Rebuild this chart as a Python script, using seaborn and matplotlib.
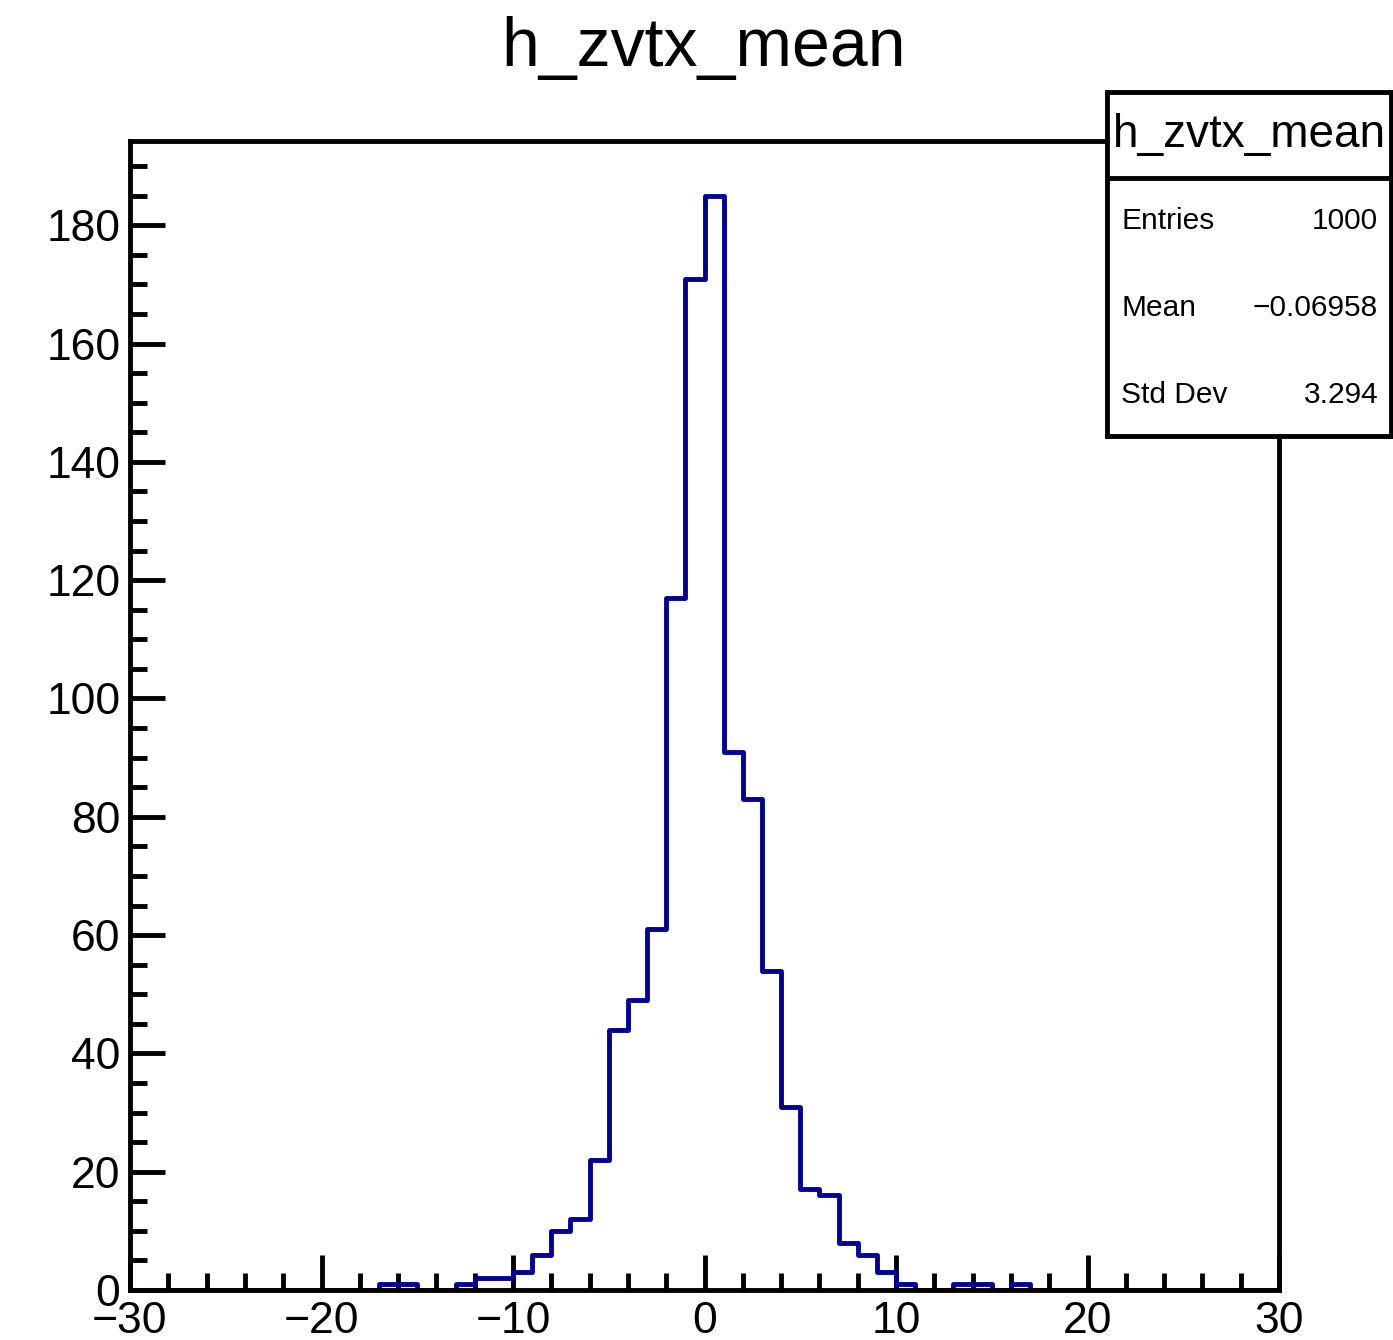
import numpy as np
import pandas as pd
import matplotlib
matplotlib.use("Agg")
import matplotlib.pyplot as plt
import matplotlib.ticker as tkr
import seaborn as sns

# bin contents of h_zvtx_mean, unit-wide bins from -30 to 30
bin_lo = [-17, -16, -13, -12, -11, -10, -9, -8, -7, -6, -5, -4, -3, -2, -1,
          0, 1, 2, 3, 4, 5, 6, 7, 8, 9, 10, 13, 14, 16]
counts = [1, 1, 1, 2, 2, 3, 6, 10, 12, 22, 44, 49, 61, 117, 171,
          185, 91, 83, 54, 31, 17, 16, 8, 6, 3, 1, 1, 1, 1]

stats_names = ["Entries", "Mean", "Std Dev"]
stats_vals = ["1000", "\u22120.06958", "3.294"]

df = pd.DataFrame({"z": np.array(bin_lo) + 0.5, "n": counts})

sns.set_style("white")
plt.rcParams['font.family'] = ['Liberation Sans', 'DejaVu Sans']
plt.rcParams['text.color'] = 'black'
plt.rcParams['xtick.color'] = 'black'
plt.rcParams['ytick.color'] = 'black'

W, H = 1393, 1340
fig = plt.figure(figsize=(W / 100, H / 100), dpi=100)
ax = fig.add_axes([130 / W, 1 - 1290 / H, (1279 - 130) / W, (1290 - 141) / H])

sns.histplot(data=df, x="z", weights="n", binwidth=1, binrange=(-30, 30),
             element="step", fill=False, color="#000099", linewidth=3.5, ax=ax)

ax.set_xlim(-30, 30)
ax.set_ylim(0, 194.25)
ax.set_xlabel("")
ax.set_ylabel("")

ax.xaxis.set_major_locator(tkr.MultipleLocator(10))
ax.xaxis.set_minor_locator(tkr.MultipleLocator(2))
ax.yaxis.set_major_locator(tkr.MultipleLocator(20))
ax.yaxis.set_minor_locator(tkr.MultipleLocator(5))
ax.tick_params(axis='both', which='both', direction='in', width=3.5, color='black',
               bottom=True, left=True, top=False, right=False)
ax.tick_params(axis='both', which='major', length=25, labelsize=32, labelcolor='black')
ax.tick_params(axis='both', which='minor', length=12)
ax.tick_params(axis='x', which='major', pad=8)
ax.tick_params(axis='y', which='major', pad=7)
for s in ax.spines.values():
    s.set_linewidth(3.5)
    s.set_color('black')
    s.set_visible(True)

fig.text(704 / W, 1 - 48 / H, "h_zvtx_mean", ha='center', va='center', fontsize=49)

# stats box
sb = fig.add_axes([1107 / W, 1 - 436 / H, (1391 - 1107) / W, (436 - 92) / H])
sb.set_xlim(0, 1)
sb.set_ylim(0, 1)
sb.set_xticks([])
sb.set_yticks([])
sb.set_facecolor('white')
for s in sb.spines.values():
    s.set_linewidth(3.5)
    s.set_color('black')
hy = (436 - 178) / (436 - 92)
sb.axhline(hy, color='black', linewidth=3.5)
sb.text(0.5, (436 - 135) / (436 - 92), "h_zvtx_mean", ha='center', va='center', fontsize=33)
for i, (nm, v) in enumerate(zip(stats_names, stats_vals)):
    yy = (436 - (221 + 87 * i)) / (436 - 92)
    sb.text(14 / 284, yy, nm, ha='left', va='center', fontsize=21.5)
    sb.text(271 / 284, yy, v, ha='right', va='center', fontsize=21.5)

fig.savefig("out.png", dpi=100)
